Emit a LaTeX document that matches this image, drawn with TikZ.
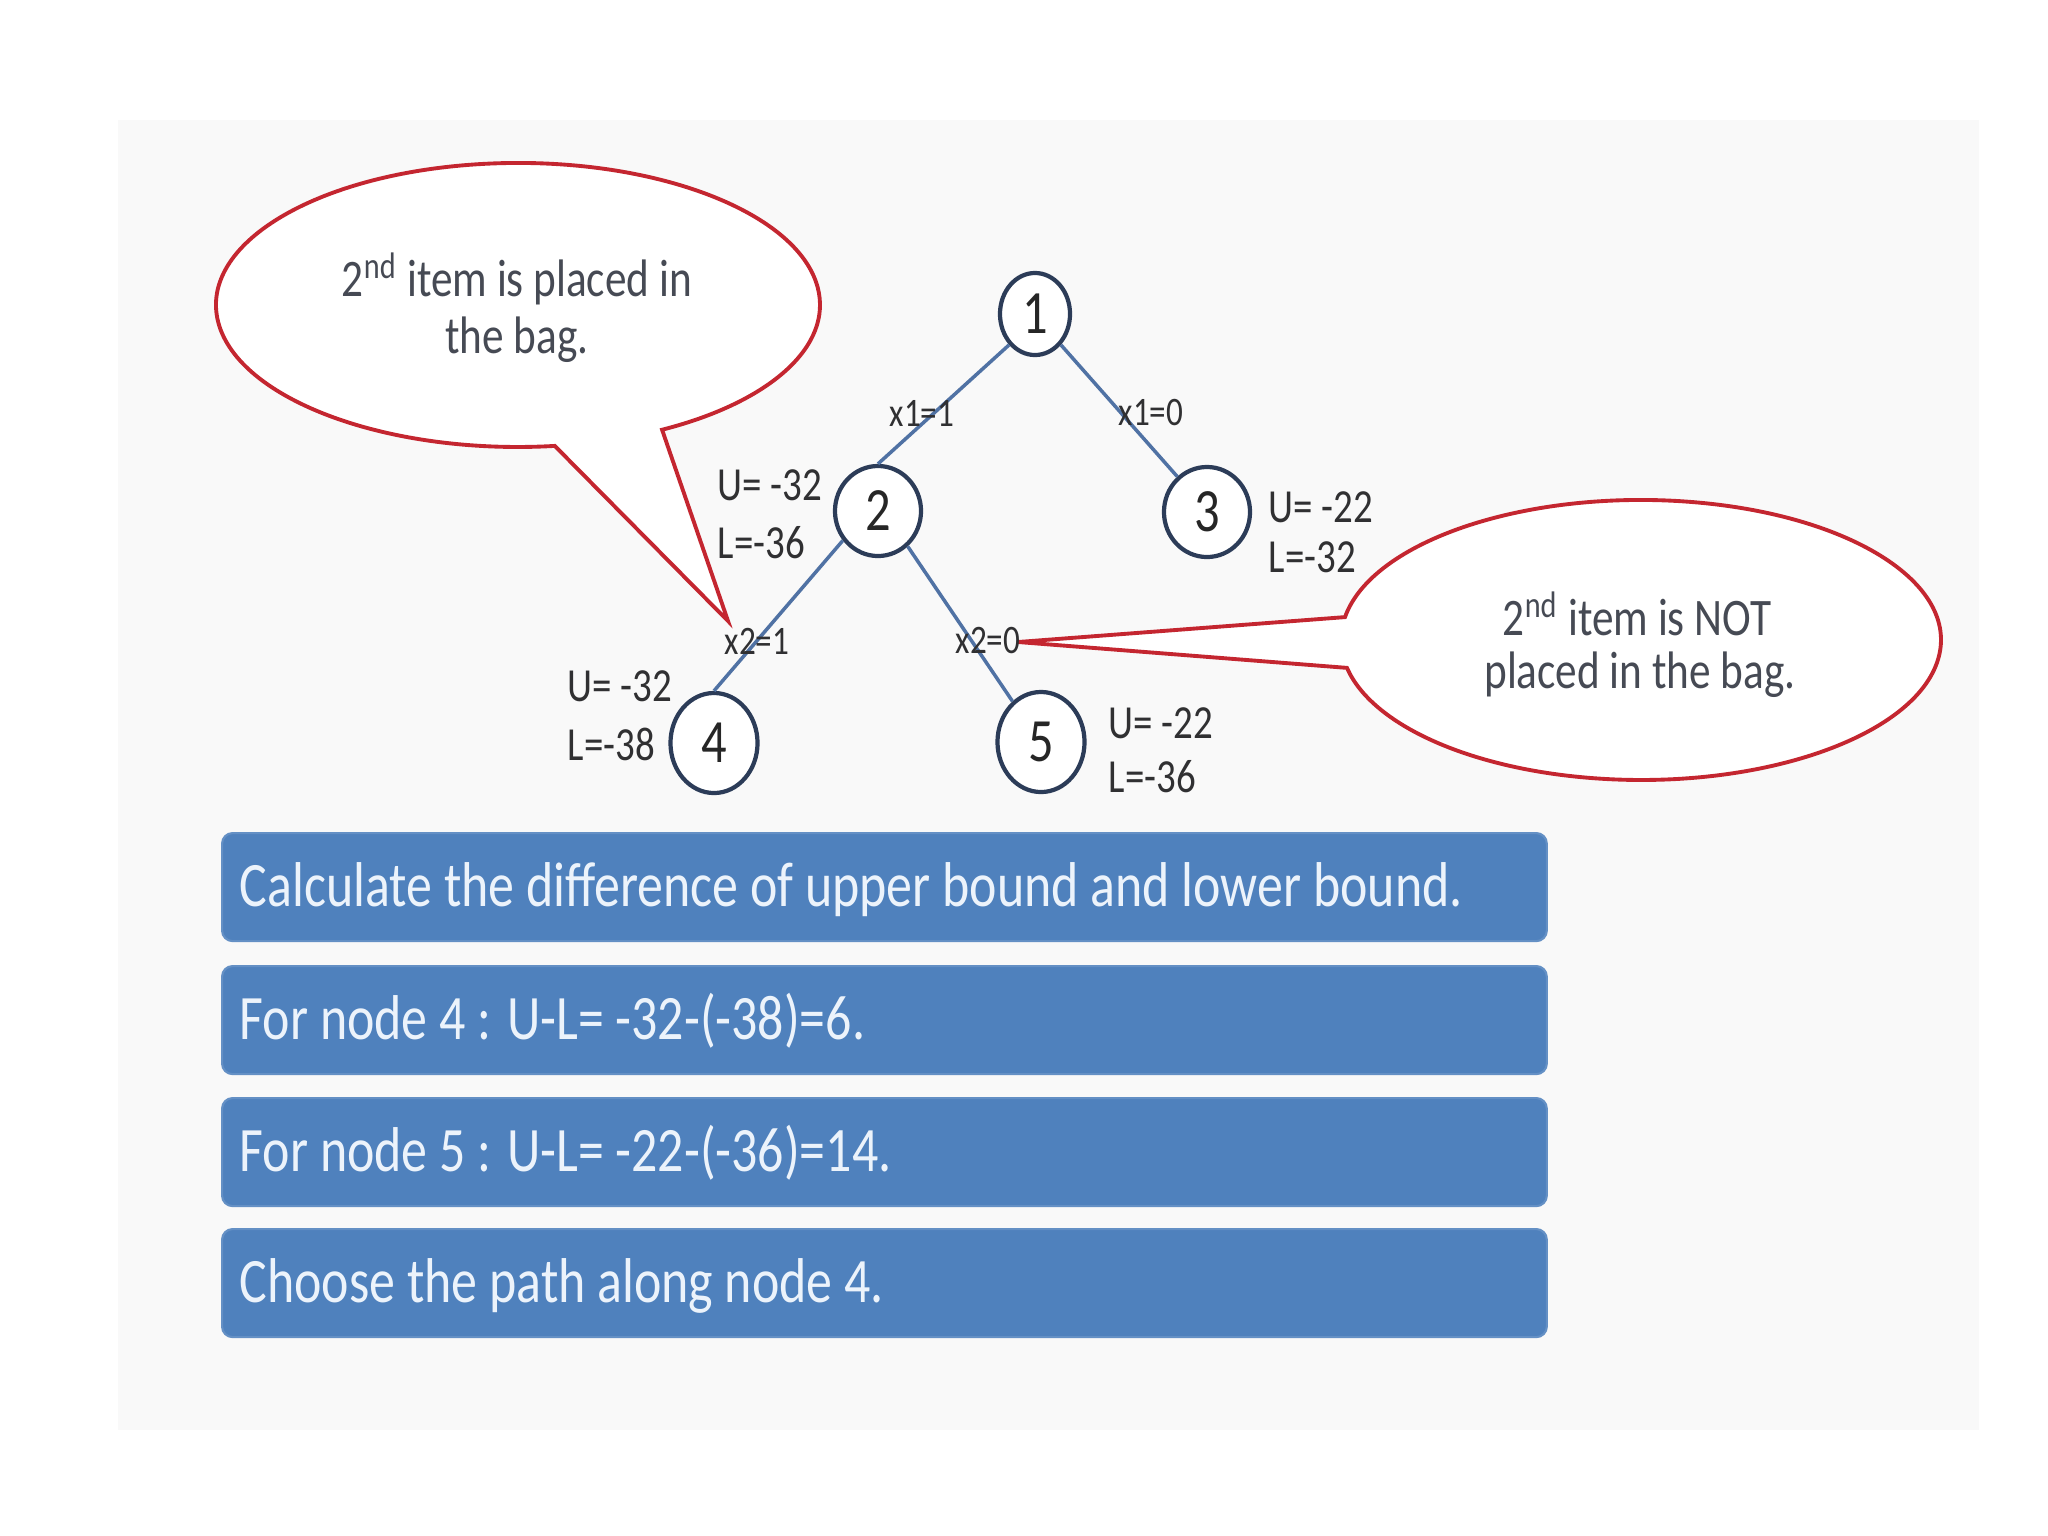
\documentclass[tikz,border=0pt]{standalone}
\usepackage{fontspec}
\setmainfont{Carlito}[FakeStretch=0.82]
\usetikzlibrary{shapes.geometric}
\definecolor{nodeline}{RGB}{44,60,88}
\definecolor{edgeblue}{RGB}{80,114,164}
\definecolor{calloutred}{RGB}{196,38,48}
\definecolor{labeltext}{RGB}{48,48,50}
\definecolor{callouttext}{RGB}{70,74,84}
\definecolor{boxblue}{RGB}{79,129,189}
\definecolor{boxtextcol}{RGB}{236,243,251}
\definecolor{panelgray}{RGB}{249,249,249}
\tikzset{
  treenode/.style={ellipse, draw=nodeline, line width=1.2pt, fill=white, inner sep=0pt,
    text=black!85, font=\fontsize{17.5}{20}\selectfont},
  edgeline/.style={draw=edgeblue, line width=1.0pt},
  bnd/.style={anchor=west, inner sep=0pt, text=labeltext, font=\fontsize{13.5}{16}\selectfont},
  elabel/.style={inner sep=0pt, text=labeltext, font=\fontsize{11.5}{14}\selectfont},
  callout/.style={draw=calloutred, line width=1.1pt, fill=white, line join=miter},
  ctext/.style={inner sep=0pt, text=callouttext, font=\fontsize{15}{18}\selectfont},
  bluebox/.style={fill=boxblue, draw=boxblue!88!white, line width=0.6pt, rounded corners=3pt,
    minimum width=13.24cm, minimum height=1.08cm, anchor=north west, inner sep=0pt},
  boxtxt/.style={anchor=base west, inner sep=0pt, text=boxtextcol, font=\fontsize{18}{22}\selectfont}
}
\begin{document}
\begin{tikzpicture}[x=0.01cm,y=-0.01cm]
\useasboundingbox (0,0) rectangle (2048,1536);
\fill[white] (0,0) rectangle (2048,1536);
\fill[panelgray] (118,120) rectangle (1979,1430);

% callouts
\coordinate (tip1) at (728,621);
\coordinate (tip2) at (1018,642);
\draw[callout] (554.8,445.9) arc[start angle=83, end angle=421.5, x radius=302, y radius=142] -- (tip1) -- cycle;
\draw[callout] (1345.0,617.1) arc[start angle=189.4, end angle=528.5, x radius=300, y radius=140] -- (tip2) -- cycle;

\node[ctext] (c1a) at (517,279) {2\textsuperscript{nd} item is placed in};
\node[ctext] (c1b) at (517,340) {the bag.};
\node[ctext] (c2a) at (1637,614) {2\textsuperscript{nd} item is NOT};
\node[ctext] (c2b) at (1640,675) {placed in the bag.};

% tree
\node[treenode, minimum width=0.70cm, minimum height=0.82cm] (n1) at (1035,314) {1};
\node[treenode, minimum width=0.86cm, minimum height=0.90cm] (n2) at (878,511) {2};
\node[treenode, minimum width=0.86cm, minimum height=0.90cm] (n3) at (1207,512) {3};
\node[treenode, minimum width=0.87cm, minimum height=1.00cm] (n4) at (714,743) {4};
\node[treenode, minimum width=0.87cm, minimum height=1.00cm] (n5) at (1041,742) {5};

\draw[edgeline] (n1.230) -- (n2.north);
\draw[edgeline] (n1.310) -- (n3.130);
\draw[edgeline] (n2.220) -- (n4.north);
\draw[edgeline] (n2.310) -- (n5.125);

\node[elabel] (e12) at (922,413) {x1=1};
\node[elabel] (e13) at (1151,413) {x1=0};
\node[elabel] (e24) at (757,641) {x2=1};
\node[elabel] (e25) at (988,641) {x2=0};

\node[bnd] (u2) at (717,485) {U= -32};
\node[bnd] (l2) at (717,543) {L=-36};
\node[bnd] (u3) at (1268,507) {U= -22};
\node[bnd] (l3) at (1268,557) {L=-32};
\node[bnd] (u4) at (567,686) {U= -32};
\node[bnd] (l4) at (567,744) {L=-38};
\node[bnd] (u5) at (1108,723) {U= -22};
\node[bnd] (l5) at (1108,777) {L=-36};

% boxes
\node[bluebox] (b1) at (221,832) {};
\node[bluebox] (b2) at (221,965) {};
\node[bluebox] (b3) at (221,1097) {};
\node[bluebox] (b4) at (221,1228) {};
\node[boxtxt] (t1) at (239,906) {Calculate the difference of upper bound and lower bound.};
\node[boxtxt] (t2) at (239,1039) {For node 4 : U-L= -32-(-38)=6.};
\node[boxtxt] (t3) at (239,1171) {For node 5 : U-L= -22-(-36)=14.};
\node[boxtxt] (t4) at (239,1302) {Choose the path along node 4.};
\end{tikzpicture}
\end{document}
